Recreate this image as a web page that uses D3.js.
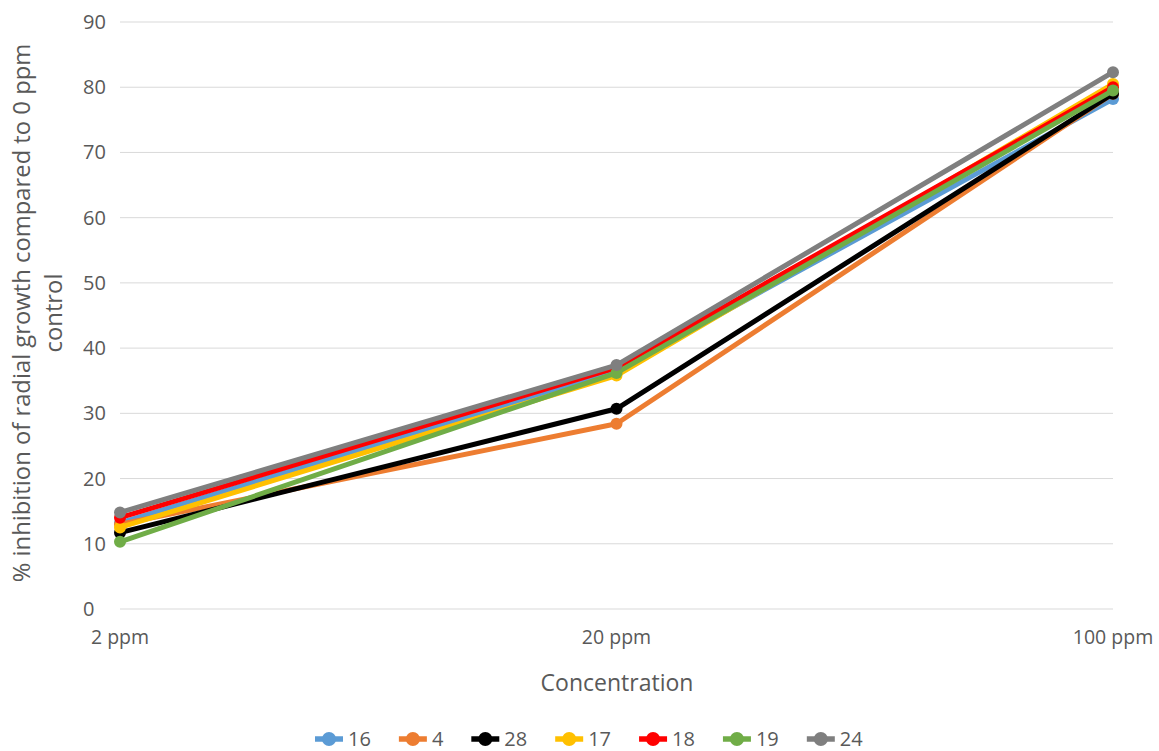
<!DOCTYPE html>
<html><head><meta charset="utf-8">
<script src="https://cdn.jsdelivr.net/npm/d3@7"></script>
<style>body{margin:0;background:#fff}svg{display:block}text{font-family:"Open Sans",sans-serif;fill:#595959}</style>
</head><body>
<svg id="c" width="1159" height="751"></svg>
<script>
const categories = ["2 ppm", "20 ppm", "100 ppm"];
const seriesNames = ["16", "4", "28", "17", "18", "19", "24"];
const seriesColors = ["#5b9bd5", "#ed7d31", "#000000", "#ffc000", "#ff0000", "#70ad47", "#7f7f7f"];
const s16 = [13.2, 36.5, 78.2];
const s4 = [13.0, 28.4, 79.0];
const s28 = [11.7, 30.7, 79.0];
const s17 = [12.5, 35.8, 80.5];
const s18 = [14.0, 37.0, 80.0];
const s19 = [10.3, 36.2, 79.5];
const s24 = [14.8, 37.4, 82.3];
const seriesValues = [s16, s4, s28, s17, s18, s19, s24];
const yTicks = [0, 10, 20, 30, 40, 50, 60, 70, 80, 90];

const svg = d3.select("#c");
const x = d3.scalePoint().domain(categories).range([120, 1113]);
const y = d3.scaleLinear().domain([0, 90]).range([609, 22]);

svg.append("g").selectAll("line").data(yTicks).join("line")
  .attr("x1", 120).attr("x2", 1113)
  .attr("y1", d => y(d)).attr("y2", d => y(d))
  .attr("stroke", "#d9d9d9").attr("stroke-width", 1);

svg.append("g").selectAll("text").data(yTicks).join("text")
  .attr("x", 83).attr("y", d => y(d)).attr("dy", "0.35em")
  .attr("text-anchor", "start").attr("font-size", 20).text(d => d);

svg.append("g").selectAll("text").data(categories).join("text")
  .attr("x", d => x(d)).attr("y", 644)
  .attr("text-anchor", "middle").attr("font-size", 19.5).text(d => d);

svg.append("text").attr("x", 617).attr("y", 691).attr("text-anchor", "middle")
  .attr("font-size", 23).text("Concentration");
const yt = svg.append("text").attr("transform", "translate(30,313) rotate(-90)")
  .attr("text-anchor", "middle").attr("font-size", 23.8);
yt.append("tspan").attr("x", 0).attr("dy", 0).text("% inhibition of radial growth compared to 0 ppm");
yt.append("tspan").attr("x", 0).attr("dy", 32).text("control");

const line = d3.line().x((d, i) => x(categories[i])).y(d => y(d));
seriesValues.forEach((vals, k) => {
  const g = svg.append("g");
  g.append("path").attr("d", line(vals)).attr("fill", "none")
    .attr("stroke", seriesColors[k]).attr("stroke-width", 5).attr("stroke-linejoin", "round");
  g.selectAll("circle").data(vals).join("circle")
    .attr("cx", (d, i) => x(categories[i])).attr("cy", d => y(d)).attr("r", 6)
    .attr("fill", seriesColors[k]);
});

const leg = svg.append("g").attr("transform", "translate(315,739)");
let cx = 0;
seriesNames.forEach((n, k) => {
  const it = leg.append("g").attr("transform", `translate(${cx},0)`);
  it.append("line").attr("x1", 0).attr("x2", 28).attr("y1", 0).attr("y2", 0)
    .attr("stroke", seriesColors[k]).attr("stroke-width", 5.5);
  it.append("circle").attr("cx", 14).attr("cy", 0).attr("r", 7).attr("fill", seriesColors[k]);
  const t = it.append("text").attr("x", 33).attr("y", 0).attr("dy", "0.35em").attr("font-size", 20).text(n);
  const w = t.node().getComputedTextLength();
  cx += 33 + w + 28;
});
</script>
</body></html>
